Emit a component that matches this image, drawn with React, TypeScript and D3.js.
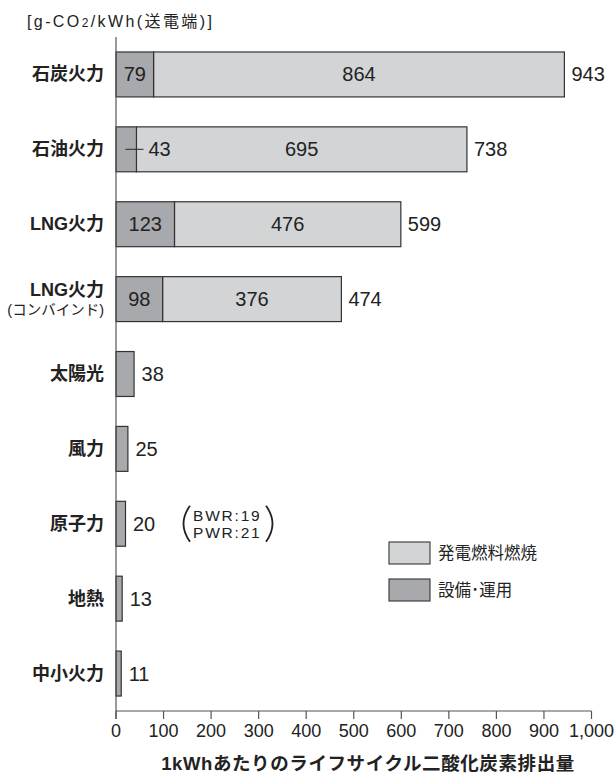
import React from 'react';
import * as d3 from 'd3';

// Life-cycle CO2 emissions per kWh by power source [g-CO2/kWh, sending end]
const categories = ['石炭火力', '石油火力', 'LNG火力', 'LNG火力', '太陽光', '風力', '原子力', '地熱', '中小火力'];
const categorySubLabels = ['', '', '', '(コンバインド)', '', '', '', '', ''];
const facilityValues = [79, 43, 123, 98, 38, 25, 20, 13, 11]; // 設備・運用
const fuelValues = [864, 695, 476, 376, 0, 0, 0, 0, 0]; // 発電燃料燃焼
const xTicks = [0, 100, 200, 300, 400, 500, 600, 700, 800, 900, 1000];
const nuclearNote = ['BWR:19', 'PWR:21'];
const legendItems = ['発電燃料燃焼', '設備･運用'];

const W = 614;
const H = 775;
const LIGHT = '#d3d4d6';
const DARK = '#a8a9ac';
const STROKE = '#333';
const TEXT = '#222';
const LATIN = '"Liberation Sans", Arial, "Noto Sans CJK JP", sans-serif';
const CJK = '"Liberation Sans", "Noto Sans CJK JP", sans-serif';

export default function App() {
  const x = d3.scaleLinear().domain([0, 1000]).range([116, 591.5]);
  const ids = categories.map((_, i) => String(i));
  const y = d3.scaleBand<string>().domain(ids).range([37, 711]).paddingInner(0.4).paddingOuter(0.2);
  const bw = y.bandwidth();
  const fmt = d3.format(',');
  const axisY = 711;

  return (
    <svg width={W} height={H} style={{ position: 'absolute', left: 0, top: 0, background: '#fff' }}>
      {/* unit */}
      <text x={27} y={27} fontFamily={CJK} fontSize={16} letterSpacing={2.4} fill={TEXT}>
        [g-CO<tspan fontSize={12}>2</tspan>/kWh(送電端)]
      </text>

      {/* bars */}
      {ids.map((id, i) => {
        const y0 = y(id) as number;
        const cy = y0 + bw / 2;
        const fac = facilityValues[i];
        const fuel = fuelValues[i];
        const total = fac + fuel;
        const xFac = x(fac);
        const xTot = x(total);
        return (
          <g key={id}>
            {fuel > 0 && (
              <rect x={xFac} y={y0} width={xTot - xFac} height={bw} fill={LIGHT} stroke={STROKE} strokeWidth={1.2} />
            )}
            <rect x={x(0)} y={y0} width={xFac - x(0)} height={bw} fill={DARK} stroke={STROKE} strokeWidth={1.2} />
            {/* category label */}
            {categorySubLabels[i] ? (
              <g>
                <text x={104} y={cy - 9} textAnchor="end" fontFamily={CJK} fontWeight={700} fontSize={18} fill={TEXT} dominantBaseline="central">
                  {categories[i]}
                </text>
                <text x={104} y={cy + 11} textAnchor="end" fontFamily={CJK} fontSize={14.5} fill={TEXT} dominantBaseline="central">
                  {categorySubLabels[i]}
                </text>
              </g>
            ) : (
              <text x={104} y={cy} textAnchor="end" fontFamily={CJK} fontWeight={700} fontSize={18} fill={TEXT} dominantBaseline="central">
                {categories[i]}
              </text>
            )}
            {fuel > 0 ? (
              <g fontFamily={LATIN} fontSize={20} fill={TEXT}>
                {xFac - x(0) > 30 ? (
                  <text x={(x(0) + xFac) / 2} y={cy} textAnchor="middle" dominantBaseline="central">{fac}</text>
                ) : (
                  <g>
                    <line x1={xFac - 11} x2={xFac + 7} y1={cy} y2={cy} stroke={STROKE} strokeWidth={1.1} />
                    <text x={xFac + 12} y={cy} dominantBaseline="central">{fac}</text>
                  </g>
                )}
                <text x={(xFac + xTot) / 2} y={cy} textAnchor="middle" dominantBaseline="central">{fuel}</text>
                <text x={xTot + 7} y={cy} dominantBaseline="central">{total}</text>
              </g>
            ) : (
              <text x={xTot + 7.5} y={cy} fontFamily={LATIN} fontSize={20} fill={TEXT} dominantBaseline="central">{total}</text>
            )}
            {categories[i] === '原子力' && (
              <g>
                <path d={`M190,${cy - 18} Q177,${cy} 190,${cy + 18}`} fill="none" stroke={TEXT} strokeWidth={1.8} />
                <path d={`M266,${cy - 18} Q279,${cy} 266,${cy + 18}`} fill="none" stroke={TEXT} strokeWidth={1.8} />
                {nuclearNote.map((t, k) => (
                  <text key={t} x={193} y={cy - 8.5 + k * 17} fontFamily={LATIN} fontSize={15.5} letterSpacing={1.8} fill={TEXT} dominantBaseline="central">
                    {t}
                  </text>
                ))}
              </g>
            )}
          </g>
        );
      })}

      {/* axes */}
      <line x1={x(0)} x2={x(0)} y1={37} y2={axisY + 8} stroke="#555" strokeWidth={1.2} />
      <line x1={x(0)} x2={x(1000)} y1={axisY} y2={axisY} stroke="#555" strokeWidth={1.2} />
      {xTicks.map((t) => (
        <g key={t}>
          <line x1={x(t)} x2={x(t)} y1={axisY} y2={axisY + 8} stroke="#555" strokeWidth={1.2} />
          <text x={x(t)} y={731} textAnchor="middle" fontFamily={LATIN} fontSize={18} fill={TEXT} dominantBaseline="central">
            {fmt(t)}
          </text>
        </g>
      ))}
      <text x={368} y={763} textAnchor="middle" fontFamily={CJK} fontWeight={700} fontSize={18.5} letterSpacing={0.6} fill={TEXT} dominantBaseline="central">
        1kWhあたりのライフサイクル二酸化炭素排出量
      </text>

      {/* legend */}
      {legendItems.map((t, k) => (
        <g key={t}>
          <rect x={389} y={542 + k * 37} width={41} height={22} fill={k === 0 ? LIGHT : DARK} stroke={STROKE} strokeWidth={1.1} />
          <text x={438} y={553 + k * 37} fontFamily={CJK} fontSize={16.5} fill={TEXT} dominantBaseline="central">{t}</text>
        </g>
      ))}
    </svg>
  );
}
